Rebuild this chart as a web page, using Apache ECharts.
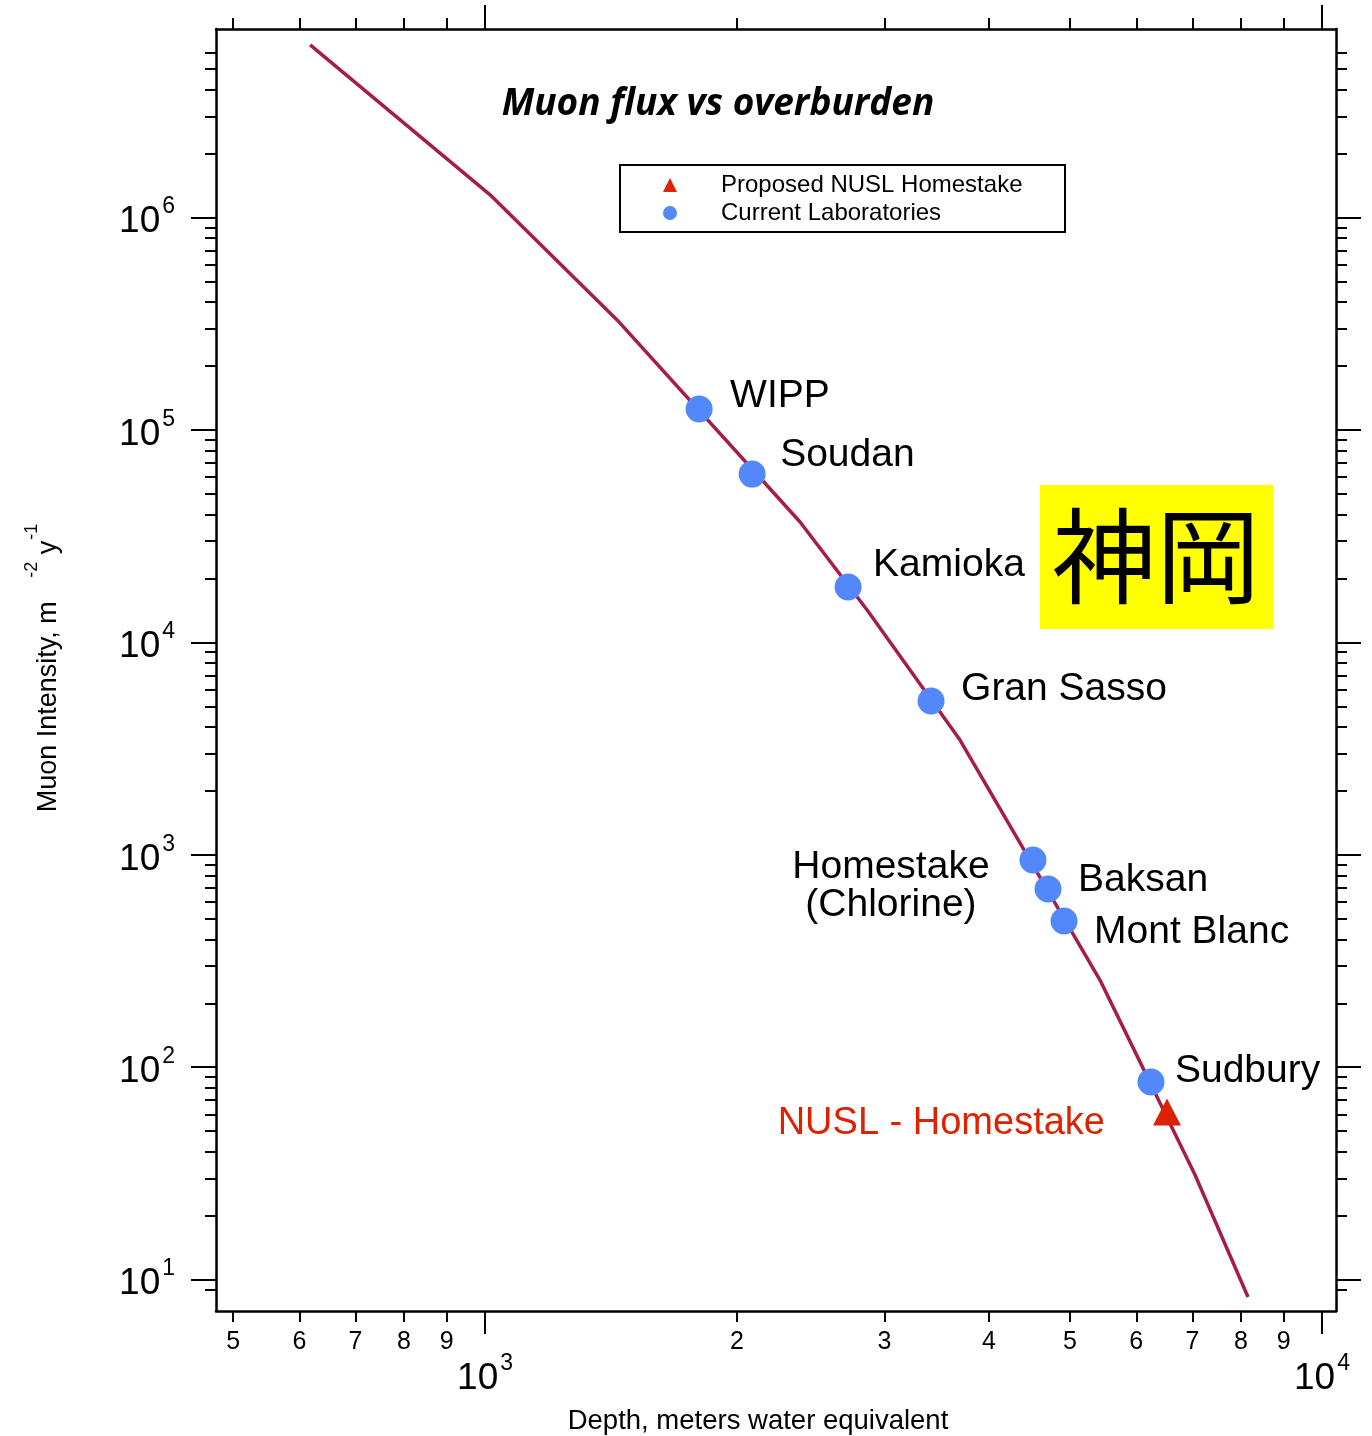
<!DOCTYPE html>
<html><head><meta charset="utf-8">
<script src="https://cdn.jsdelivr.net/npm/echarts@6/dist/echarts.min.js"></script>
<style>html,body{margin:0;padding:0;background:#fff}#c{width:1372px;height:1436px}</style>
</head><body><div id="c"></div>
<script>
// ---- data ----
const curveDepth = [618, 1014, 1438, 2379, 2861, 3694, 5429, 6247, 7053, 8158];
const curveFlux  = [6.50e6, 1.28e6, 3.30e5, 3.69e4, 1.42e4, 3471, 257.3, 83, 31.08, 8.28];
const labNames = ['WIPP', 'Soudan', 'Kamioka', 'Gran Sasso', 'Homestake\n(Chlorine)', 'Baksan', 'Mont Blanc', 'Sudbury'];
const labDepth = [1802, 2085, 2715, 3411, 4515, 4706, 4918, 6247];
const labFlux  = [1.256e5, 6.2e4, 1.823e4, 5298, 945, 690, 488, 85.2];
const nuslNames = ['NUSL - Homestake'];
const nuslDepth = [6528];
const nuslFlux  = [61.5];
const xMinorTicks = [500, 600, 700, 800, 900, 2000, 3000, 4000, 5000, 6000, 7000, 8000, 9000];
const xMajorTicks = [1000, 10000];
const yMinorTicks = [9,
  20, 30, 40, 50, 60, 70, 80, 90,
  200, 300, 400, 500, 600, 700, 800, 900,
  2000, 3000, 4000, 5000, 6000, 7000, 8000, 9000,
  2e4, 3e4, 4e4, 5e4, 6e4, 7e4, 8e4, 9e4,
  2e5, 3e5, 4e5, 5e5, 6e5, 7e5, 8e5, 9e5,
  2e6, 3e6, 4e6, 5e6, 6e6];
const yMajorTicks = [10, 100, 1e3, 1e4, 1e5, 1e6];
const seriesNames = ['Proposed NUSL Homestake', 'Current Laboratories'];

// ---- style / layout ----
const FONT = '"Liberation Sans", Arial, Helvetica, sans-serif';
const labelLayout = [
  {dx: 31, dy: -13, align: 'left'},
  {dx: 28, dy: -19, align: 'left'},
  {dx: 25, dy: -22, align: 'left'},
  {dx: 30, dy: -12, align: 'left'},
  {dx: -142, dy: 26, align: 'center'},
  {dx: 30, dy: -9, align: 'left'},
  {dx: 30, dy: 11, align: 'left'},
  {dx: 24, dy: -11, align: 'left'}
];
const nuslLayout = [{dx: -62, dy: 11, align: 'right'}];

const G = {left: 216, top: 29, width: 1120, height: 1282};
const X_MIN = 477, X_MAX = 10393, Y_MIN = 7.115, Y_MAX = 7.727e6;

const mantissa = v => {
  const p = Math.pow(10, Math.floor(Math.log10(v) + 1e-9));
  return String(Math.round(v / p));
};
const powLabel = v => '{b|10}{s|' + Math.round(Math.log10(v)) + '}';
const powRich = {
  b: {fontSize: 37, lineHeight: 36, fontFamily: FONT, color: '#000', padding: [9, 0, 0, 0]},
  s: {fontSize: 23, lineHeight: 24, fontFamily: FONT, color: '#000', padding: [0, 0, 21, 2]}
};
const lineBlack = {color: '#000', width: 2.5};
const tickBlack = {color: '#000', width: 2};

function xAx(gi, pos, ticks, len, showLine, label) {
  return {
    gridIndex: gi, type: 'log', position: pos, min: X_MIN, max: X_MAX,
    axisLine: {show: showLine, lineStyle: lineBlack},
    axisTick: {show: true, customValues: ticks, length: len, lineStyle: tickBlack},
    axisLabel: label ? Object.assign({show: true, customValues: ticks}, label) : {show: false},
    splitLine: {show: false}, minorTick: {show: false}, minorSplitLine: {show: false}
  };
}
function yAx(gi, pos, ticks, len, showLine, label) {
  return {
    gridIndex: gi, type: 'log', position: pos, min: Y_MIN, max: Y_MAX,
    axisLine: {show: showLine, lineStyle: lineBlack},
    axisTick: {show: true, customValues: ticks, length: len, lineStyle: tickBlack},
    axisLabel: label ? Object.assign({show: true, customValues: ticks}, label) : {show: false},
    splitLine: {show: false}, minorTick: {show: false}, minorSplitLine: {show: false}
  };
}

const labData = labNames.map((n, i) => ({
  name: n, value: [labDepth[i], labFlux[i]],
  label: {show: true, position: 'inside', align: labelLayout[i].align, verticalAlign: 'middle',
          offset: [labelLayout[i].dx, labelLayout[i].dy]}
}));
const nuslData = nuslNames.map((n, i) => ({
  name: n, value: [nuslDepth[i], nuslFlux[i]],
  label: {show: true, position: 'inside', align: nuslLayout[i].align, verticalAlign: 'middle',
          offset: [nuslLayout[i].dx, nuslLayout[i].dy]}
}));

const chart = echarts.init(document.getElementById('c'), null, {renderer: 'canvas'});
chart.setOption({
  animation: false,
  backgroundColor: '#fff',
  grid: [0, 1, 2, 3].map(() => Object.assign({}, G)),
  xAxis: [
    xAx(0, 'bottom', xMinorTicks, 11, true, {formatter: mantissa, fontSize: 25, fontFamily: FONT, color: '#000', margin: 19}),
    xAx(1, 'bottom', xMajorTicks, 23, false, {formatter: powLabel, rich: powRich, margin: 45}),
    xAx(2, 'top', xMinorTicks, 11, true, null),
    xAx(3, 'top', xMajorTicks, 24, false, null)
  ],
  yAxis: [
    yAx(0, 'left', yMinorTicks, 11, true, null),
    yAx(1, 'left', yMajorTicks, 25, false, {formatter: powLabel, rich: powRich, margin: 41}),
    yAx(2, 'right', yMinorTicks, 11, true, null),
    yAx(3, 'right', yMajorTicks, 25, false, null)
  ],
  legend: {
    show: true, orient: 'vertical', left: 663, top: 173, padding: 0,
    itemWidth: 14, itemHeight: 14, itemGap: 4,
    data: [{name: seriesNames[0], icon: 'triangle'}, {name: seriesNames[1], icon: 'circle'}],
    textStyle: {fontSize: 24, fontFamily: FONT, color: '#000', padding: [0, 0, 0, 39]},
    selectedMode: false
  },
  series: [
    {
      name: 'curve', type: 'line', xAxisIndex: 0, yAxisIndex: 0,
      data: curveDepth.map((d, i) => [d, curveFlux[i]]),
      showSymbol: false, symbol: 'none', silent: true, z: 2,
      lineStyle: {color: '#a61c4c', width: 3.5}
    },
    {
      name: seriesNames[1], type: 'scatter', xAxisIndex: 0, yAxisIndex: 0,
      data: labData, symbol: 'circle', symbolSize: 27, z: 3,
      itemStyle: {color: '#5388fb', opacity: 1},
      label: {color: '#000', fontSize: 39, fontFamily: FONT, lineHeight: 38, textBorderWidth: 0, formatter: p => p.name}
    },
    {
      name: seriesNames[0], type: 'scatter', xAxisIndex: 0, yAxisIndex: 0,
      data: nuslData, symbol: 'triangle', symbolSize: [28, 27], z: 3,
      itemStyle: {color: '#dd2200', opacity: 1},
      label: {color: '#dd2200', fontSize: 38, fontFamily: FONT, textBorderWidth: 0, formatter: p => p.name}
    }
  ],
  graphic: [
    {type: 'text', x: 718, y: 104, z: 10,
     style: {text: 'Muon flux vs overburden', align: 'center', verticalAlign: 'middle',
             font: 'italic bold 37px "Open Sans", "DejaVu Sans", sans-serif', fill: '#000'}},
    {type: 'rect', x: 620, y: 165, z: 1,
     shape: {x: 0, y: 0, width: 445, height: 67},
     style: {fill: 'none', stroke: '#000', lineWidth: 2}},
    {type: 'rect', x: 1040, y: 485, z: 1,
     shape: {x: 0, y: 0, width: 233, height: 144},
     style: {fill: '#ffff00', stroke: 'none'}},
    {type: 'text', x: 1156, y: 556, z: 2,
     style: {text: '神岡', align: 'center', verticalAlign: 'middle',
             font: '104px "Noto Sans CJK JP"', fill: '#000'}},
    {type: 'text', x: 758, y: 1421, z: 2,
     style: {text: 'Depth, meters water equivalent', align: 'center', verticalAlign: 'middle',
             font: '27.5px ' + FONT, fill: '#000'}},
    {type: 'text', x: 45, y: 668, rotation: Math.PI / 2, z: 2,
     style: {text: '{n|Muon Intensity, m   }{s|-2}{n| y}{s|-1}', align: 'center', verticalAlign: 'middle',
             rich: {
               n: {fontSize: 27, lineHeight: 27, fontFamily: FONT, fill: '#000', padding: [8, 0, 0, 0]},
               s: {fontSize: 18, lineHeight: 18, fontFamily: FONT, fill: '#000', padding: [0, 0, 26, 1]}
             }}}
  ]
});
</script>
</body></html>
